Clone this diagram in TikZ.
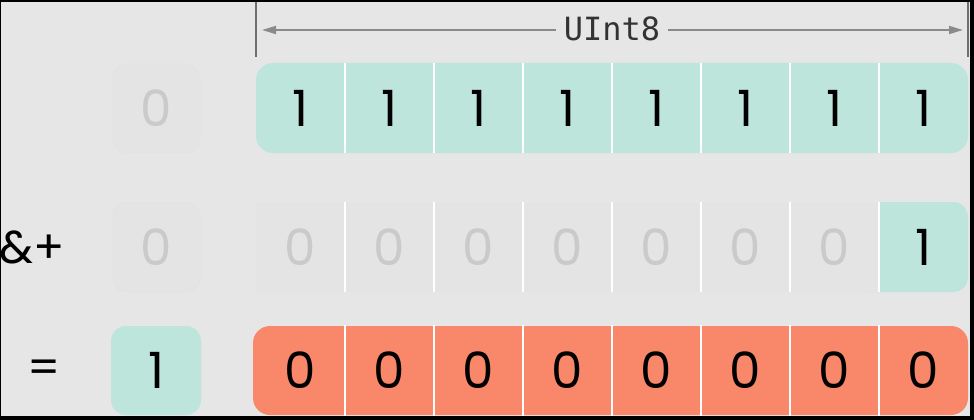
\documentclass[tikz,border=0pt]{standalone}
\usepackage{fontspec}
\usetikzlibrary{arrows.meta}
\newfontfamily\digitfont{Poppins}
\newfontfamily\monofont{DejaVu Sans Mono}
\definecolor{bgc}{HTML}{E6E6E6}
\definecolor{faintc}{HTML}{E4E4E4}
\definecolor{faintline}{HTML}{E2E2E2}
\definecolor{tealc}{HTML}{BDE5DB}
\definecolor{orangec}{HTML}{F98769}
\definecolor{ghost}{HTML}{CACACA}
\definecolor{rulec}{HTML}{6E6E6E}
\definecolor{arrowc}{HTML}{8A8A8A}
\begin{document}
\begin{tikzpicture}[x=1pt,y=-1pt,
  cell/.style={minimum width=89pt, minimum height=90pt, inner sep=0pt,
    font=\digitfont\fontsize{50}{50}\selectfont, text=black},
  ghostcell/.style={cell, text=ghost},
  divider/.style={white, line width=1.6pt},
  opl/.style={inner sep=0pt, font=\digitfont\fontsize{46}{46}\selectfont, text=black},
  rulel/.style={rulec, line width=1.6pt},
  dimarrow/.style={arrowc, line width=1.8pt, -{Triangle[length=14pt,width=8pt]}}]
\useasboundingbox (0,0) rectangle (974,420);
\fill[black] (0,0) rectangle (974,420);
\fill[bgc] (1,2) rectangle (970,416);

% width marker
\coordinate (vl1) at (256,2);
\coordinate (vl2) at (256,57);
\coordinate (vr1) at (968,2);
\coordinate (vr2) at (968,57);
\draw[rulel] (vl1) -- (vl2);
\draw[rulel] (vr1) -- (vr2);
\coordinate (al) at (262,30);
\coordinate (ar) at (963,30);
\node[font=\monofont\fontsize{32}{32}\selectfont, text=black!80, inner xsep=8pt, inner ysep=0pt] (lbl) at (612,29) {UInt8};
\draw[dimarrow] (lbl.west |- al) -- (al);
\draw[dimarrow] (lbl.east |- ar) -- (ar);

% row 1
\fill[faintc, draw=faintline, rounded corners=14pt] (113,64) rectangle (200,153);
\node[ghostcell, minimum width=87pt] (l1) at (156.5,108) {0};
\fill[tealc, rounded corners=17pt] (256,63) rectangle (968,153);
\foreach \i in {1,...,8} {
  \node[cell] (a\i) at ({211.5+89*\i},108) {1};
}
\foreach \i in {1,...,7} {
  \draw[divider] (a\i.north east) -- (a\i.south east);
}

% row 2
\node[opl] (op1) at (32,247) {\&+};
\fill[faintc, draw=faintline, rounded corners=14pt] (113,202) rectangle (200,292);
\node[ghostcell, minimum width=87pt] (l2) at (156.5,247) {0};
\fill[tealc, rounded corners=15pt] (850,202) rectangle (968,292);
\fill[faintc] (256,202) rectangle (879,292);
\foreach \i in {1,...,7} {
  \node[ghostcell] (b\i) at ({211.5+89*\i},247) {0};
}
\node[cell] (b8) at ({211.5+89*8},247) {1};
\foreach \i in {1,...,7} {
  \draw[divider] (b\i.north east) -- (b\i.south east);
}

% row 3
\node[opl] (op2) at (44,372) {=};
\fill[tealc, rounded corners=15pt] (111,326) rectangle (201,415);
\node[cell, minimum width=90pt] (l3) at (156,370.5) {1};
\fill[orangec, rounded corners=17pt] (253,326) rectangle (968,415);
\foreach \i in {1,...,8} {
  \node[cell] (c\i) at ({211.5+89*\i},370.5) {0};
}
\foreach \i in {1,...,7} {
  \draw[divider] (c\i.north east) -- (c\i.south east);
}
\end{tikzpicture}
\end{document}
